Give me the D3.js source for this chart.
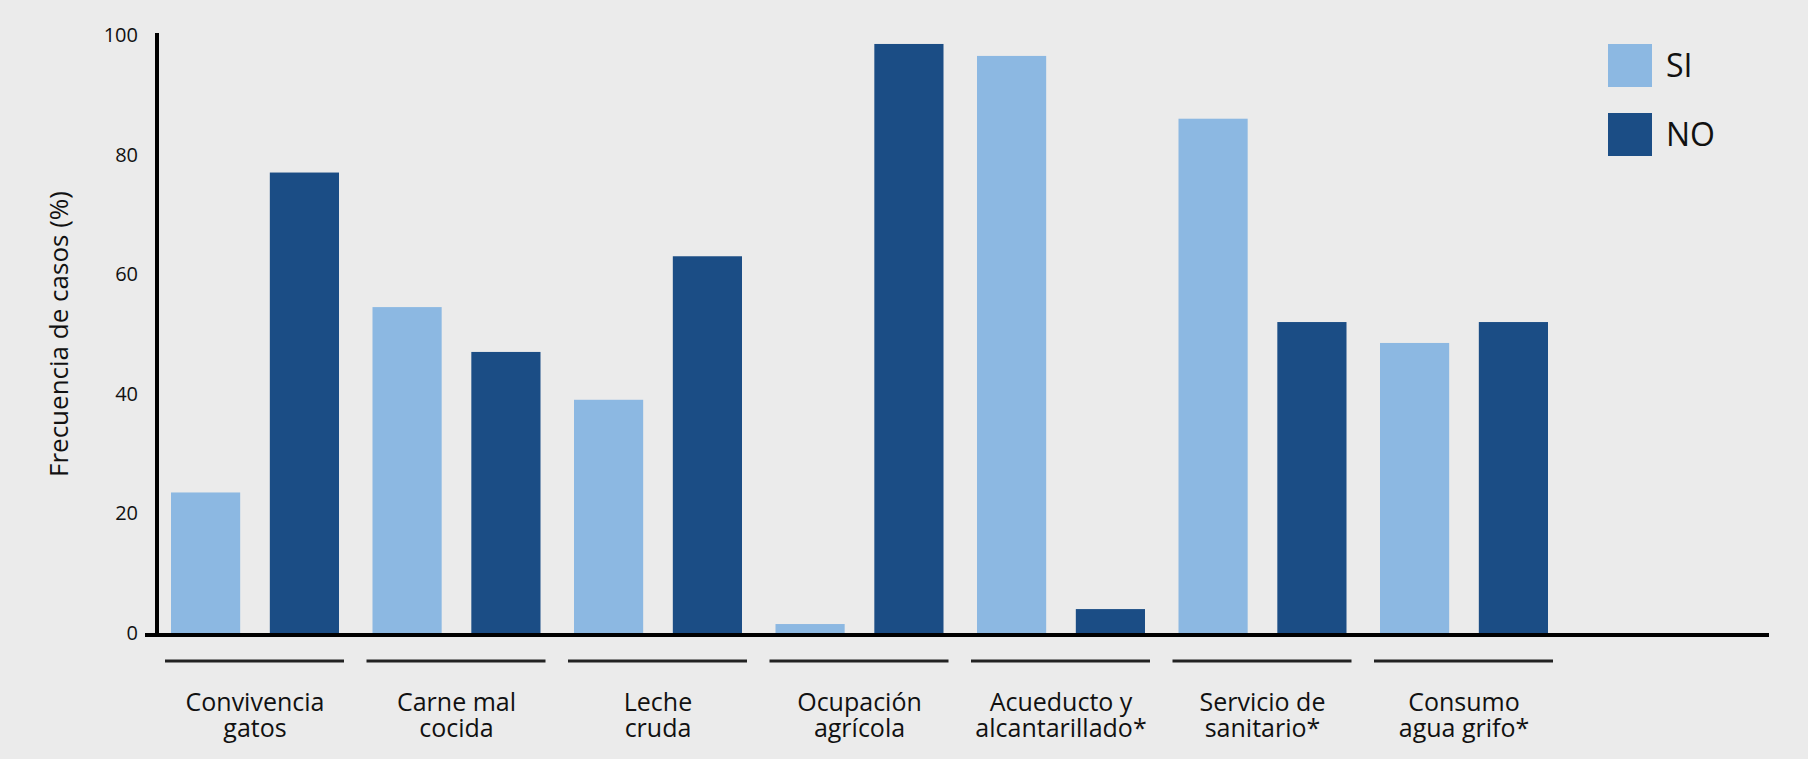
<!DOCTYPE html>
<html>
<head>
<meta charset="utf-8">
<script src="https://d3js.org/d3.v7.min.js"></script>
<style>
  body { margin: 0; background: #ebebeb; }
  text { font-family: "Open Sans", sans-serif; fill: #111; }
</style>
</head>
<body>
<div id="graph"></div>
<script>
    // Data
    const categories = [
        ["Convivencia", "gatos"],
        ["Carne mal", "cocida"],
        ["Leche", "cruda"],
        ["Ocupación", "agrícola"],
        ["Acueducto y", "alcantarillado*"],
        ["Servicio de", "sanitario*"],
        ["Consumo", "agua grifo*"]
    ];
    const siValues = [23.5, 54.5, 39, 1.5, 96.5, 86, 48.5];
    const noValues = [77, 47, 63, 98.5, 4, 52, 52];
    const series = ["SI", "NO"];
    const yTicks = [0, 20, 40, 60, 80, 100];

    const width = 1808, height = 759;
    const colors = { SI: "#8cb8e2", NO: "#1b4d85" };

    const svg = d3.select("#graph").append("svg")
        .attr("width", width).attr("height", height)
        .style("background", "#ebebeb");

    const y = d3.scaleLinear().domain([0, 100]).range([633, 35]);

    const x = d3.scaleBand()
        .domain(d3.range(categories.length))
        .range([171, 171 + 201.5 * categories.length])
        .paddingInner(0).paddingOuter(0);

    const xInner = d3.scaleBand()
        .domain(series)
        .range([0, 168])
        .paddingInner(0.3);

    const rows = categories.map((c, i) => ({ i: i, SI: siValues[i], NO: noValues[i] }));

    // Bars
    const g = svg.selectAll("g.group").data(rows).enter().append("g")
        .attr("class", "group")
        .attr("transform", d => "translate(" + x(d.i) + ",0)");

    g.selectAll("rect").data(d => series.map(s => ({ s: s, v: d[s] }))).enter()
        .append("rect")
        .attr("x", d => xInner(d.s))
        .attr("width", xInner.bandwidth())
        .attr("y", d => y(d.v))
        .attr("height", d => y(0) - y(d.v))
        .attr("fill", d => colors[d.s]);

    // Underlines and labels
    g.append("line")
        .attr("x1", -6).attr("x2", 173)
        .attr("y1", 661).attr("y2", 661)
        .attr("stroke", "#222").attr("stroke-width", 3);

    g.each(function(d) {
        const t = d3.select(this).append("text")
            .attr("text-anchor", "middle")
            .attr("font-size", 25);
        t.append("tspan").attr("x", 84).attr("y", 711).text(categories[d.i][0]);
        t.append("tspan").attr("x", 84).attr("y", 737).text(categories[d.i][1]);
    });

    // Axes
    svg.append("line")
        .attr("x1", 157).attr("x2", 157)
        .attr("y1", 33).attr("y2", 635)
        .attr("stroke", "#000").attr("stroke-width", 4);
    svg.append("line")
        .attr("x1", 145).attr("x2", 1769)
        .attr("y1", 635).attr("y2", 635)
        .attr("stroke", "#000").attr("stroke-width", 4);

    svg.selectAll("text.tick").data(yTicks).enter().append("text")
        .attr("class", "tick")
        .attr("x", 138)
        .attr("y", d => y(d) + 7)
        .attr("text-anchor", "end")
        .attr("font-size", 20)
        .text(d => d);

    svg.append("text")
        .attr("transform", "translate(68,334) rotate(-90)")
        .attr("text-anchor", "middle")
        .attr("font-size", 26)
        .text("Frecuencia de casos (%)");

    // Legend
    const legend = svg.selectAll("g.legend").data(series).enter().append("g")
        .attr("class", "legend")
        .attr("transform", (d, i) => "translate(1608," + (44 + i * 69) + ")");
    legend.append("rect")
        .attr("width", 44).attr("height", 43)
        .attr("fill", d => colors[d]);
    legend.append("text")
        .attr("x", 58).attr("y", 33)
        .attr("font-size", 32)
        .text(d => d);
</script>
</body>
</html>
